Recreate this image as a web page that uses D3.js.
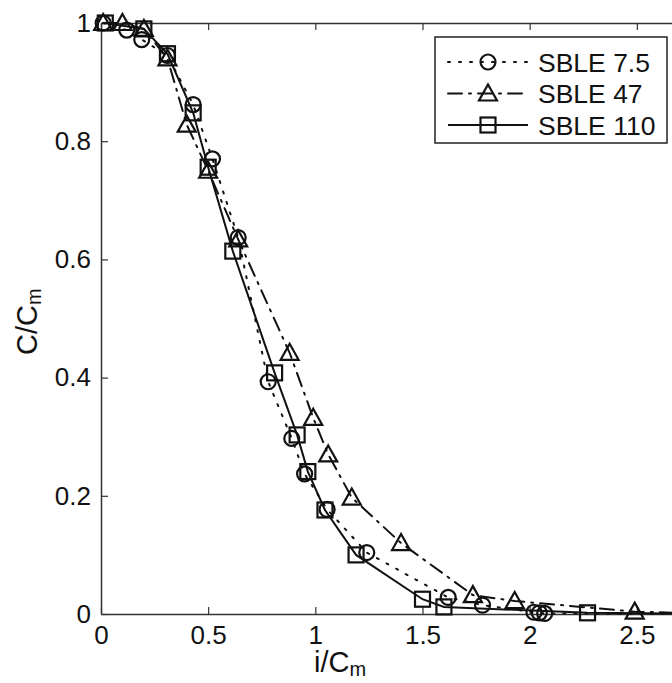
<!DOCTYPE html>
<html>
<head>
<meta charset="utf-8">
<script src="https://cdn.jsdelivr.net/npm/d3@7"></script>
<style>
  body { margin: 0; background: #fff; }
  svg { display: block; }
  text { font-family: "Liberation Sans", Arial, sans-serif; fill: #111; }
</style>
</head>
<body>
<div id="chart"></div>
<script>
// data
var seriesNames = ["SBLE 7.5", "SBLE 47", "SBLE 110"];

var sble75X = [0.01, 0.12, 0.19, 0.31, 0.43, 0.52, 0.64, 0.78, 0.89, 0.95, 1.055, 1.24, 1.62, 1.78, 2.02, 2.045, 2.07, 2.85];
var sble75Y = [1.0, 0.988, 0.972, 0.945, 0.862, 0.77, 0.637, 0.393, 0.297, 0.237, 0.177, 0.104, 0.028, 0.015, 0.003, 0.002, 0.001, 0.0];

var sble47X = [0.01, 0.10, 0.20, 0.31, 0.40, 0.50, 0.64, 0.88, 0.99, 1.06, 1.17, 1.40, 1.735, 1.93, 2.49, 2.9];
var sble47Y = [1.0, 1.0, 0.99, 0.94, 0.828, 0.75, 0.634, 0.442, 0.332, 0.27, 0.197, 0.12, 0.032, 0.022, 0.004, 0.0];

var sble110X = [0.02, 0.20, 0.31, 0.43, 0.50, 0.615, 0.81, 0.915, 0.965, 1.045, 1.19, 1.50, 1.60, 2.27, 2.9];
var sble110Y = [1.0, 0.99, 0.948, 0.848, 0.756, 0.614, 0.408, 0.303, 0.241, 0.176, 0.10, 0.025, 0.012, 0.002, 0.0];

// the axis goes on to 3 past the right edge, only these labels show
var xTicks = [0, 0.5, 1, 1.5, 2, 2.5];
var yTicks = [0, 0.2, 0.4, 0.6, 0.8, 1];

var svgWidth = 672;
var svgHeight = 683;

var margin = { top: 23, left: 101 };
var width = 643;
var height = 591;

var svg = d3.select("#chart")
    .append("svg")
    .attr("width", svgWidth)
    .attr("height", svgHeight);

var chartGroup = svg.append("g")
    .attr("transform", `translate(${margin.left}, ${margin.top})`);

var xScale = d3.scaleLinear().domain([0, 3]).range([0, width]);
var yScale = d3.scaleLinear().domain([0, 1]).range([height, 0]);

var fmt = d3.format("");

function styleAxis(g) {
    g.selectAll("path").attr("stroke", "#333").attr("stroke-width", 1.5);
    g.selectAll("line").attr("stroke", "#333").attr("stroke-width", 1.2);
    g.selectAll("text")
        .style("font-family", "'Liberation Sans', Arial, sans-serif")
        .style("font-size", "26px")
        .attr("fill", "#111");
}

// ticks point inward like matlab
chartGroup.append("g")
    .attr("transform", `translate(0, ${height})`)
    .call(d3.axisBottom(xScale).tickValues(xTicks).tickFormat(fmt).tickSize(-7).tickSizeOuter(0).tickPadding(12))
    .call(styleAxis);

chartGroup.append("g")
    .call(d3.axisTop(xScale).tickValues(xTicks).tickFormat("").tickSize(-7).tickSizeOuter(0))
    .call(styleAxis);

chartGroup.append("g")
    .call(d3.axisLeft(yScale).tickValues(yTicks).tickFormat(fmt).tickSize(-7).tickSizeOuter(0).tickPadding(10))
    .call(styleAxis);

chartGroup.append("g")
    .attr("transform", `translate(${width}, 0)`)
    .call(d3.axisRight(yScale).tickValues(yTicks).tickFormat("").tickSize(-7).tickSizeOuter(0))
    .call(styleAxis);

var series = [
    { name: seriesNames[0], xs: sble75X, ys: sble75Y, dash: "2,9", marker: "circle" },
    { name: seriesNames[1], xs: sble47X, ys: sble47Y, dash: "14,7,2,7", marker: "triangle" },
    { name: seriesNames[2], xs: sble110X, ys: sble110Y, dash: null, marker: "square" }
];

var line = d3.line()
    .x(d => xScale(d[0]))
    .y(d => yScale(d[1]));

function drawMarker(g, type, x, y) {
    if (type == "circle") {
        g.append("circle").attr("cx", x).attr("cy", y).attr("r", 7.5);
    } else if (type == "triangle") {
        g.append("path").attr("d", `M${x},${y - 9} L${x + 9},${y + 7} L${x - 9},${y + 7} Z`);
    } else {
        g.append("rect").attr("x", x - 7.5).attr("y", y - 7.5).attr("width", 15).attr("height", 15);
    }
}

series.forEach(function(s) {
    var pts = s.xs.map((x, i) => [x, s.ys[i]]);
    chartGroup.append("path")
        .datum(pts)
        .attr("d", line)
        .attr("fill", "none")
        .attr("stroke", "#111")
        .attr("stroke-width", 2)
        .attr("stroke-linecap", s.dash ? "round" : "butt")
        .attr("stroke-dasharray", s.dash);

    var mg = chartGroup.append("g")
        .attr("fill", "none")
        .attr("stroke", "#111")
        .attr("stroke-width", 2.2);
    pts.forEach(function(p) {
        drawMarker(mg, s.marker, xScale(p[0]), yScale(p[1]));
    });
});

// legend
var legend = svg.append("g");
legend.append("rect")
    .attr("x", 435).attr("y", 37)
    .attr("width", 232).attr("height", 106)
    .attr("fill", "#fff")
    .attr("stroke", "#222")
    .attr("stroke-width", 1.5);

series.forEach(function(s, i) {
    var ry = 62 + i * 31.5;
    legend.append("line")
        .attr("x1", 448).attr("x2", 528)
        .attr("y1", ry).attr("y2", ry)
        .attr("stroke", "#111")
        .attr("stroke-width", 2)
        .attr("stroke-linecap", s.dash ? "round" : "butt")
        .attr("stroke-dasharray", s.dash);
    var mg = legend.append("g")
        .attr("fill", "none")
        .attr("stroke", "#111")
        .attr("stroke-width", 2.2);
    drawMarker(mg, s.marker, 488, ry);
    legend.append("text")
        .attr("x", 538)
        .attr("y", ry + 9.5)
        .style("font-size", "26.5px")
        .text(s.name);
});

// axis titles
var xl = svg.append("text")
    .attr("x", 314)
    .attr("y", 672)
    .style("font-size", "29px")
    .text("i/C");
xl.append("tspan").attr("dy", 4).style("font-size", "20px").text("m");

var yl = svg.append("text")
    .attr("transform", "translate(37, 355) rotate(-90)")
    .style("font-size", "29px")
    .text("C/C");
yl.append("tspan").attr("dy", 4).style("font-size", "20px").text("m");
</script>
</body>
</html>
